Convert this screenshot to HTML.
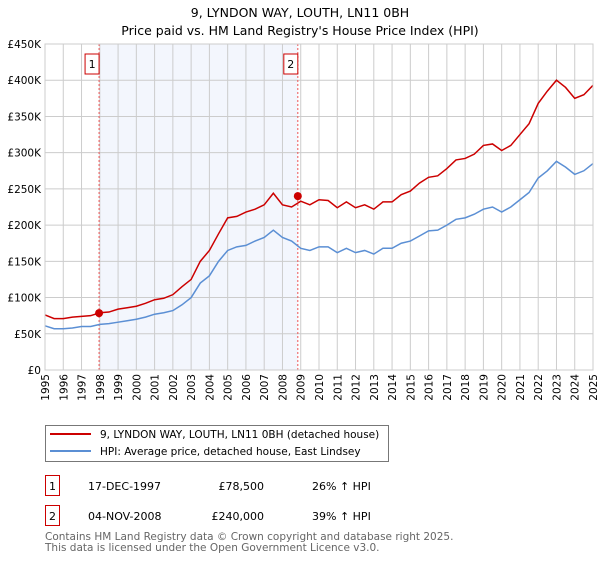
<!DOCTYPE html>
<html><head><meta charset="utf-8"><style>
body{margin:0;background:#fff;font-family:"DejaVu Sans","Liberation Sans",sans-serif;}
svg text{font-family:"DejaVu Sans","Liberation Sans",sans-serif;}
</style></head><body>
<svg width="600" height="560" xmlns="http://www.w3.org/2000/svg" id="chart">
<text x="300" y="17" font-size="12.5" text-anchor="middle">9, LYNDON WAY, LOUTH, LN11 0BH</text>
<text x="300" y="35" font-size="12.5" text-anchor="middle">Price paid vs. HM Land Registry's House Price Index (HPI)</text>
<g id="plot"></g>
<g>
<rect x="45.5" y="425.5" width="343" height="36" fill="#fff" stroke="#777"/>
<line x1="50" y1="434" x2="91" y2="434" stroke="#cc0000" stroke-width="2"/>
<text x="100" y="438" font-size="10.5">9, LYNDON WAY, LOUTH, LN11 0BH (detached house)</text>
<line x1="50" y1="451" x2="91" y2="451" stroke="#5b8fd4" stroke-width="2"/>
<text x="100" y="455" font-size="10.5">HPI: Average price, detached house, East Lindsey</text>
</g>
<g>
<rect x="45.5" y="475.5" width="14" height="20" fill="#fff" stroke="#cc0000"/>
<text x="52.5" y="490" font-size="11" text-anchor="middle">1</text>
<text x="88" y="490" font-size="11">17-DEC-1997</text>
<text x="264" y="490" font-size="11" text-anchor="end">£78,500</text>
<text x="312" y="490" font-size="11">26% ↑ HPI</text>
</g>
<g>
<rect x="45.5" y="505.5" width="14" height="20" fill="#fff" stroke="#cc0000"/>
<text x="52.5" y="520" font-size="11" text-anchor="middle">2</text>
<text x="88" y="520" font-size="11">04-NOV-2008</text>
<text x="264" y="520" font-size="11" text-anchor="end">£240,000</text>
<text x="312" y="520" font-size="11">39% ↑ HPI</text>
</g>
<text x="45" y="540" font-size="10.5" fill="#666">Contains HM Land Registry data © Crown copyright and database right 2025.</text>
<text x="45" y="551" font-size="10.5" fill="#666">This data is licensed under the Open Government Licence v3.0.</text>
</svg>
<script>
const years=[1995,1995.5,1996,1996.5,1997,1997.5,1998,1998.5,1999,1999.5,2000,2000.5,2001,2001.5,2002,2002.5,2003,2003.5,2004,2004.5,2005,2005.5,2006,2006.5,2007,2007.5,2008,2008.5,2009,2009.5,2010,2010.5,2011,2011.5,2012,2012.5,2013,2013.5,2014,2014.5,2015,2015.5,2016,2016.5,2017,2017.5,2018,2018.5,2019,2019.5,2020,2020.5,2021,2021.5,2022,2022.5,2023,2023.5,2024,2024.5,2025];
const hpiValues=[61,57,57,58,60,60,63,64,66,68,70,73,77,79,82,90,100,120,130,150,165,170,172,178,183,193,183,178,168,165,170,170,162,168,162,165,160,168,168,175,178,185,192,193,200,208,210,215,222,225,218,225,235,245,265,275,288,280,270,275,285];
const priceValues=[76,71,71,73,74,75,79,80,84,86,88,92,97,99,104,115,125,150,165,188,210,212,218,222,228,244,228,225,233,228,235,234,224,232,224,228,222,232,232,242,247,258,266,268,278,290,292,298,310,312,303,310,325,340,368,385,400,390,375,380,393];
const sales=[{t:1997.96,v:78.5,label:"1"},{t:2008.84,v:240,label:"2"}];
const yTicks=[0,50,100,150,200,250,300,350,400,450];
const yTickLabels=["£0","£50K","£100K","£150K","£200K","£250K","£300K","£350K","£400K","£450K"];
const xTicks=[1995,1996,1997,1998,1999,2000,2001,2002,2003,2004,2005,2006,2007,2008,2009,2010,2011,2012,2013,2014,2015,2016,2017,2018,2019,2020,2021,2022,2023,2024,2025];

const L=45,R=593,T=44,B=370;
const x=t=>L+(t-1995)/30*(R-L);
const y=v=>B-v/450*(B-T);
const NS="http://www.w3.org/2000/svg";
const g=document.getElementById('plot');
function mk(tag,attrs,parent){const e=document.createElementNS(NS,tag);for(const k in attrs)e.setAttribute(k,attrs[k]);(parent||g).appendChild(e);return e;}
const bg=mk('rect',{x:L,y:T,width:R-L,height:B-T,fill:'#fff'});


const sh=mk('rect',{x:x(sales[0].t),y:T,width:x(sales[1].t)-x(sales[0].t),height:B-T,fill:'#f3f6fd'});


xTicks.forEach(t=>{
 const l=mk('line',{x1:x(t),x2:x(t),y1:T,y2:B,stroke:'#ccc','stroke-width':1});
 
 
 const tx=mk('text',{x:0,y:0,'font-size':10.5,'text-anchor':'end',transform:`translate(${x(t)+4},${B+4}) rotate(-90)`});
 tx.textContent=t;
 
 
});
yTicks.forEach((v,i)=>{
 const l=mk('line',{x1:L,x2:R,y1:y(v),y2:y(v),stroke:'#ccc','stroke-width':1});
 
 
 const tx=mk('text',{x:L-4,y:y(v)+4,'font-size':10.5,'text-anchor':'end'});
 tx.textContent=yTickLabels[i];
 
 
});
sales.forEach(s=>{
 const l=mk('line',{x1:x(s.t),x2:x(s.t),y1:T,y2:B,stroke:'#e55','stroke-width':1,'stroke-dasharray':'2,2'});
 
 
 const bx=mk('rect',{x:x(s.t)-14,y:T+10,width:14,height:20,fill:'#fff',stroke:'#cc0000'});
 
 
 const tx=mk('text',{x:x(s.t)-7,y:T+24,'font-size':11,'text-anchor':'middle'});
 tx.textContent=s.label;
 
 
});
const hp=mk('polyline',{points:years.map((t,i)=>x(t)+','+y(hpiValues[i])).join(' '),fill:'none',stroke:'#5b8fd4','stroke-width':1.5});


const pp=mk('polyline',{points:years.map((t,i)=>x(t)+','+y(priceValues[i])).join(' '),fill:'none',stroke:'#cc0000','stroke-width':1.5});


sales.forEach(s=>{
 const c=mk('circle',{cx:x(s.t),cy:y(s.v),r:4,fill:'#cc0000'});
 
 
});
const br=mk('rect',{x:L,y:T,width:R-L,height:B-T,fill:'none',stroke:'#ccc'});


</script>
</body></html>
